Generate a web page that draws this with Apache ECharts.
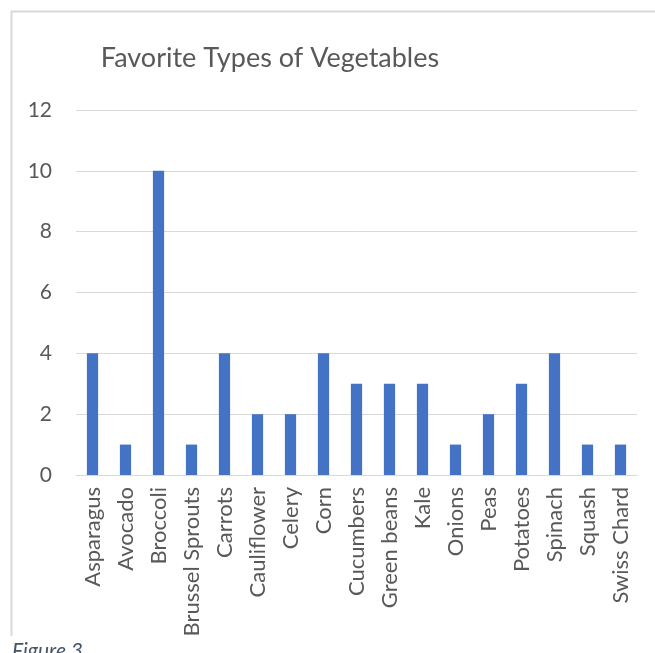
<!DOCTYPE html>
<html><head><meta charset="utf-8">
<script src="https://cdn.jsdelivr.net/npm/echarts@6/dist/echarts.min.js"></script>
<style>html,body{margin:0;padding:0;background:#fff}#c{width:655px;height:653px}</style>
</head><body><div id="c"></div>
<script>
const categories = ["Asparagus","Avocado","Broccoli","Brussel Sprouts","Carrots","Cauliflower","Celery","Corn","Cucumbers","Green beans","Kale","Onions","Peas","Potatoes","Spinach","Squash","Swiss Chard"];
const values = [4,1,10,1,4,2,2,4,3,3,3,1,2,3,4,1,1];
const titleText = "Favorite Types of Vegetables";
const captionText = "Figure 3";
const FONT = "Lato";
const chart = echarts.init(document.getElementById('c'), null, {renderer:'canvas'});
chart.setOption({
  animation:false,
  grid:{left:76, right:18, top:110, bottom:178, containLabel:false},
  xAxis:{type:'category', data:categories,
    axisLine:{lineStyle:{color:'#d9d9d9', width:1}}, axisTick:{show:false},
    axisLabel:{rotate:90, interval:0, margin:12, fontFamily:FONT, fontSize:22, color:'#595959'}},
  yAxis:{type:'value', min:0, max:12, interval:2,
    axisLine:{show:false}, axisTick:{show:false},
    splitLine:{lineStyle:{color:'#d9d9d9', width:1}},
    axisLabel:{margin:24, fontFamily:FONT, fontSize:21, color:'#595959'}},
  series:[{type:'bar', data:values, barWidth:'34%', itemStyle:{color:'#4472C4'}}],
  graphic:[
    {type:'polyline', shape:{points:[[11.5,636],[11.5,11.5],[655,11.5]]}, style:{stroke:'#d9d9d9', fill:null, lineWidth:2}},
    {type:'text', x:270, y:58, style:{text:titleText, align:'center', verticalAlign:'middle', fontFamily:FONT, fontSize:27, fill:'#595959'}},
    {type:'text', x:12, y:641, style:{text:captionText, fontFamily:FONT, fontStyle:'italic', fontSize:21, fill:'#44546A'}}
  ]
});
</script></body></html>
